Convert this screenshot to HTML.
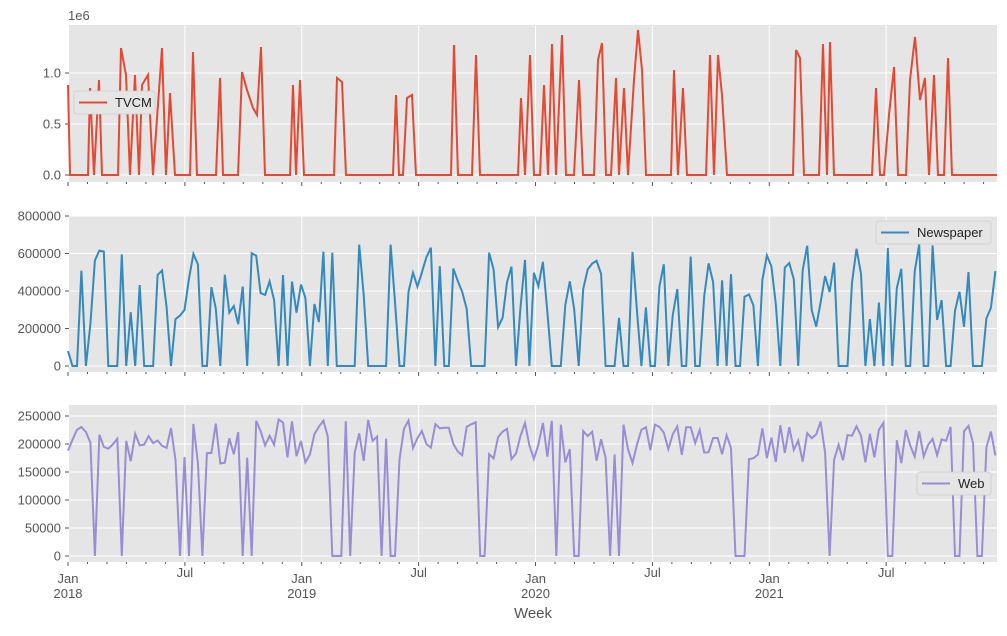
<!DOCTYPE html><html><head><style>body{margin:0;background:#fff}svg{font-family:"Liberation Sans","DejaVu Sans",sans-serif}</style></head><body>
<svg id="s" width="1007" height="631" xmlns="http://www.w3.org/2000/svg"></svg>
<script>
var S=document.getElementById('s'),h='';
var L=69,R=997,panels=[[25,182],[216,372],[405,562]];
function X(w){return 68+w*4.48}
var months=[];for(var y=2018;y<2022;y++)for(var m=0;m<12;m++){months.push(68+((y-2018)*365.25+m*30.44)/7*4.48)}
panels.forEach(function(p){h+='<rect x="'+L+'" y="'+p[0]+'" width="'+(R-L)+'" height="'+(p[1]-p[0])+'" fill="#e5e5e5"/>';
months.forEach(function(x,i){if(x>R)return;if(i%6==0){h+='<line x1="'+x+'" x2="'+x+'" y1="'+p[0]+'" y2="'+p[1]+'" stroke="#fff"/>';h+='<line x1="'+x+'" x2="'+x+'" y1="'+p[1]+'" y2="'+(p[1]+4)+'" stroke="#555"/>'}else h+='<line x1="'+x+'" x2="'+x+'" y1="'+p[1]+'" y2="'+(p[1]+2)+'" stroke="#555"/>'});});
function yt(ticks){ticks.forEach(function(t){h+='<line x1="'+L+'" x2="'+R+'" y1="'+t[0]+'" y2="'+t[0]+'" stroke="#fff"/><line x1="'+(L-4)+'" x2="'+L+'" y1="'+t[0]+'" y2="'+t[0]+'" stroke="#555"/><text x="'+(L-8)+'" y="'+(t[0]+4.5)+'" font-size="13" fill="#555" text-anchor="end">'+t[1]+'</text>'})}
yt([[175,'0.0'],[124,'0.5'],[73,'1.0']]);
yt([[366,'0'],[328.5,'200000'],[291,'400000'],[253.5,'600000'],[216,'800000']]);
yt([[556,'0'],[528,'50000'],[500,'100000'],[472,'150000'],[444,'200000'],[416,'250000']]);
h+='<text x="68" y="20" font-size="13" fill="#555">1e6</text>';
var tv=[[68,85],[70,175],[88,175],[90,88],[94,175],[99,80],[102,175],[118,175],[121,48],[126,75],[130,175],[135,75],[139,175],[142,85],[148,75],[153,175],[162,48],[166,175],[170,93],[175,175],[190,175],[193,52],[197,175],[216,175],[220,78],[223,175],[238,175],[242,72],[247,90],[253,108],[257,115],[261,47],[265,175],[290,175],[293,85],[296,175],[300,80],[304,175],[334,175],[337,78],[342,82],[346,175],[393,175],[396,95],[399,175],[403,175],[407,98],[412,95],[416,175],[451,175],[454,45],[458,175],[472,175],[476,55],[480,175],[518,175],[521,98],[525,175],[530,55],[534,175],[540,175],[544,85],[548,175],[552,44],[556,175],[562,35],[566,175],[574,175],[579,80],[583,175],[594,175],[598,60],[602,43],[606,175],[611,175],[616,78],[619,175],[624,88],[628,175],[634,80],[638,30],[642,70],[646,175],[671,175],[674,70],[678,175],[683,88],[687,175],[706,175],[710,55],[714,175],[718,55],[722,95],[727,175],[793,175],[796,50],[800,58],[804,175],[819,175],[823,44],[827,175],[830,42],[834,175],[872,175],[876,88],[880,175],[884,175],[889,115],[894,67],[898,175],[906,175],[910,80],[915,37],[920,100],[925,78],[929,175],[934,75],[938,175],[944,175],[948,58],[952,175],[997,175]];
h+='<polyline fill="none" stroke="#E24A33" stroke-width="2" points="'+tv.join(' ')+'"/>';
var seed=7;function r(){seed=(seed*16807)%2147483647;return seed/2147483647}
var n=[],w=[];
for(var i=0;i<=207;i++){var x=X(i);var v=r()<0.4?0:200000+r()*450000;if(i==0)v=80000;n.push(x.toFixed(1)+','+(366-v/800000*150).toFixed(1));
var u=r()<0.14?0:165000+r()*80000;w.push(x.toFixed(1)+','+(556-u/250000*140).toFixed(1))}
h+='<polyline fill="none" stroke="#348ABD" stroke-width="2" points="'+n.join(' ')+'"/>';
h+='<polyline fill="none" stroke="#988ED5" stroke-width="2" points="'+w.join(' ')+'"/>';
function lg(x,y,wd,c,t){h+='<rect x="'+x+'" y="'+y+'" width="'+wd+'" height="23" rx="3" fill="#e5e5e5" stroke="#ccc" stroke-width="0.8"/><line x1="'+(x+5)+'" x2="'+(x+33)+'" y1="'+(y+11.5)+'" y2="'+(y+11.5)+'" stroke="'+c+'" stroke-width="2"/><text x="'+(x+41)+'" y="'+(y+16)+'" font-size="13" fill="#222">'+t+'</text>'}
lg(74,91,81,'#E24A33','TVCM');lg(876,221,115,'#348ABD','Newspaper');lg(917,472,74,'#988ED5','Web');
var lab=[['Jan','2018'],['Jul',''],['Jan','2019'],['Jul',''],['Jan','2020'],['Jul',''],['Jan','2021'],['Jul','']];
lab.forEach(function(l,i){var x=months[i*6];h+='<text x="'+x+'" y="'+(l[1]?583:577)+'" font-size="13" fill="#555" text-anchor="middle">'+l[0]+'</text>';if(l[1])h+='<text x="'+x+'" y="598" font-size="13" fill="#555" text-anchor="middle">'+l[1]+'</text>'});
h+='<text x="533" y="618" font-size="15" fill="#555" text-anchor="middle">Week</text>';
S.innerHTML=h;
</script></body></html>
